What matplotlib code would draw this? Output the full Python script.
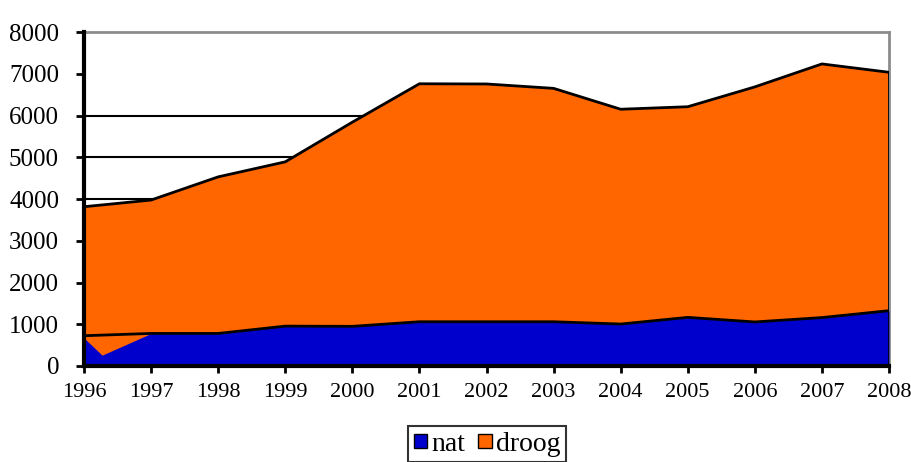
import numpy as np
import matplotlib
matplotlib.use("Agg")
import matplotlib.pyplot as plt

#
# data
#
years = [1996, 1997, 1998, 1999, 2000, 2001, 2002, 2003, 2004, 2005, 2006, 2007, 2008]
nat = [725, 780, 780, 955, 950, 1060, 1060, 1060, 1005, 1165, 1055, 1160, 1325]
droog = [3090, 3195, 3750, 3935, 4890, 5700, 5695, 5590, 5145, 5045, 5630, 6075, 5710]

# the blue fill in the original has a small glitch just after 1996
nat_fill_years = [1996, 1996.27, 1997, 1998, 1999, 2000, 2001, 2002, 2003, 2004, 2005, 2006, 2007, 2008]
nat_fill = [670, 260, 780, 780, 955, 950, 1060, 1060, 1060, 1005, 1165, 1055, 1160, 1325]

y_ticks = [0, 1000, 2000, 3000, 4000, 5000, 6000, 7000, 8000]
grid_values = [1000, 2000, 3000, 4000, 5000, 6000]  # no line at 7000 in the original

blue = '#0000CC'
orange = '#FF6600'

plt.rcParams['font.family'] = ['Liberation Serif', 'DejaVu Serif']

fig = plt.figure(figsize=(9.11, 4.62), dpi=100)
ax = fig.add_axes([84 / 911, 1 - 366 / 462, 805 / 911, 334 / 462])

total = np.array(nat) + np.array(droog)

# gridlines (black, behind the areas)
for v in grid_values:
    ax.axhline(v, color='black', lw=1.5, zorder=1)

ax.fill_between(years, 0, total, color=orange, lw=0, zorder=2, label='droog')
ax.fill_between(nat_fill_years, 0, nat_fill, color=blue, lw=0, zorder=3, label='nat')
ax.plot(years, nat, color='black', lw=2, zorder=4)
ax.plot(years, total, color='black', lw=2, zorder=4)
ax.plot([years[-1], years[-1]], [0, total[-1]], color='black', lw=2, zorder=4)

ax.set_xlim(years[0], years[-1])
ax.set_ylim(0, 8000)
ax.set_xticks(years)
ax.set_yticks(y_ticks)
ax.tick_params(axis='y', direction='out', length=6, width=2, labelsize=18, pad=12)
ax.tick_params(axis='x', direction='out', length=5, width=2, labelsize=16, pad=7)

for s in ['left', 'bottom']:
    ax.spines[s].set_linewidth(3)
    ax.spines[s].set_color('black')
for s in ['top', 'right']:
    ax.spines[s].set_linewidth(2)
    ax.spines[s].set_color('#8c8c8c')
ax.spines['left'].set_zorder(5)
ax.spines['bottom'].set_zorder(5)

# legend in the order nat, droog
h, l = ax.get_legend_handles_labels()
order = [1, 0]
leg = fig.legend([h[i] for i in order], [l[i] for i in order],
                 loc='upper center', bbox_to_anchor=(487 / 911, 1 - 426 / 462),
                 ncol=2, fontsize=20, frameon=True, fancybox=False,
                 edgecolor='black', handlelength=0.5, handleheight=0.4,
                 handletextpad=0.15, columnspacing=0.45, borderpad=0.2,
                 borderaxespad=0)
leg.get_frame().set_linewidth(1.5)
for p in leg.get_patches():
    p.set_edgecolor('black')
    p.set_linewidth(1)

fig.savefig('out.png', dpi=100)
